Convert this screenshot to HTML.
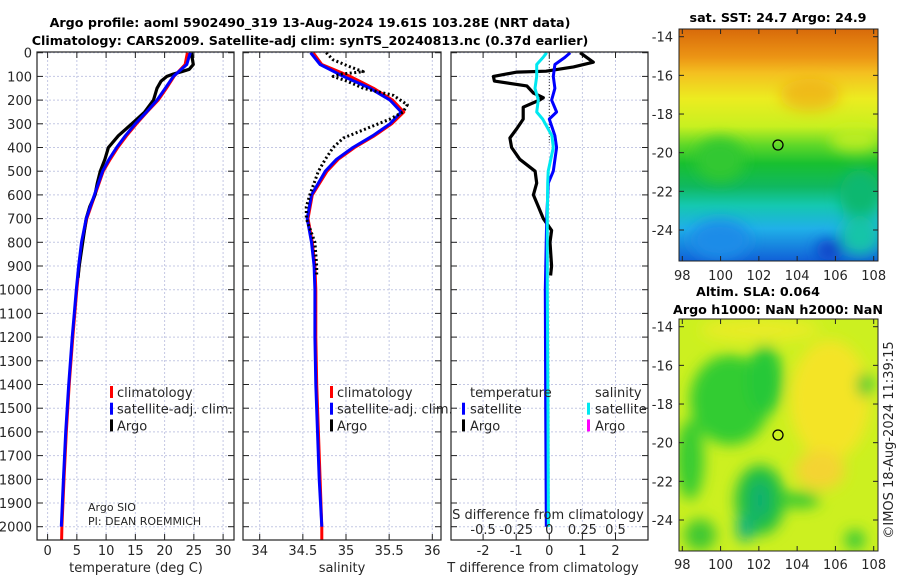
<!DOCTYPE html>
<html><head><meta charset="utf-8"><style>
html,body{margin:0;padding:0;background:#fff;}
svg{display:block;font-family:"DejaVu Sans","Liberation Sans",sans-serif;}
.t{font-size:13px;fill:#262626;}
.b{font-weight:bold;fill:#000;font-size:12.7px;}
</style></head><body>
<svg id="fig" width="900" height="580" viewBox="0 0 900 580" xmlns="http://www.w3.org/2000/svg">
<defs>
<linearGradient id="sstg" x1="0" y1="0" x2="0" y2="1">
<stop offset="0" stop-color="#d86a0a"/><stop offset="0.12" stop-color="#ec9414"/><stop offset="0.19" stop-color="#f4c020"/>
<stop offset="0.3" stop-color="#ecec20"/><stop offset="0.42" stop-color="#c8f020"/><stop offset="0.5" stop-color="#60d828"/>
<stop offset="0.58" stop-color="#18c030"/><stop offset="0.68" stop-color="#10b860"/><stop offset="0.76" stop-color="#14c8b0"/>
<stop offset="0.86" stop-color="#20b0e8"/><stop offset="1" stop-color="#1060d8"/></linearGradient>
<filter id="blur"><feGaussianBlur stdDeviation="7"/></filter>
<clipPath id="c1"><rect x="679" y="29" width="199" height="232"/></clipPath>
<clipPath id="c2"><rect x="679" y="319" width="199" height="232"/></clipPath>
</defs>
<text class="b" x="310" y="27" text-anchor="middle">Argo profile: aoml 5902490_319 13-Aug-2024 19.61S 103.28E (NRT data)</text>
<text class="b" x="310" y="45" text-anchor="middle">Climatology: CARS2009. Satellite-adj clim: synTS_20240813.nc (0.37d earlier)</text>
<g id="p1"></g>
<g id="p2"></g>
<g id="p3"></g>

<g>
<text class="b" x="778" y="22" text-anchor="middle">sat. SST: 24.7 Argo: 24.9</text>
<g clip-path="url(#c1)">
<rect x="679" y="29" width="199" height="232" fill="url(#sstg)"/>
<g filter="url(#blur)">
<ellipse cx="810" cy="95" rx="30" ry="16" fill="#f0a018" opacity="0.6"/>
<ellipse cx="720" cy="160" rx="25" ry="22" fill="#30c830"/>
<ellipse cx="855" cy="140" rx="25" ry="12" fill="#c8f020" opacity="0.8"/>
<ellipse cx="860" cy="195" rx="20" ry="25" fill="#10b870"/>
<ellipse cx="720" cy="240" rx="30" ry="20" fill="#1c8ce8"/>
<ellipse cx="830" cy="250" rx="14" ry="10" fill="#1040c8"/>
<ellipse cx="860" cy="235" rx="20" ry="20" fill="#14c4a8"/>
</g></g>
<rect x="679" y="29" width="199" height="232" fill="none" stroke="#222" stroke-width="1"/>
<circle cx="778" cy="145" r="5" fill="none" stroke="#000" stroke-width="1.3"/>
<g id="m1ax"></g>
</g>

<g>
<text class="b" x="758" y="296" text-anchor="middle">Altim. SLA: 0.064</text>
<text class="b" x="778" y="314" text-anchor="middle">Argo h1000: NaN h2000: NaN</text>
<g clip-path="url(#c2)">
<rect x="679" y="319" width="199" height="232" fill="#ccf020"/>
<g filter="url(#blur)">
<ellipse cx="830" cy="400" rx="40" ry="60" fill="#f4e428"/>
<ellipse cx="820" cy="470" rx="25" ry="20" fill="#f4d430"/>
<ellipse cx="760" cy="330" rx="60" ry="12" fill="#e8ec28"/>
<ellipse cx="730" cy="400" rx="40" ry="45" fill="#30cc30"/>
<ellipse cx="765" cy="380" rx="18" ry="35" fill="#28c838"/>
<ellipse cx="690" cy="460" rx="14" ry="40" fill="#38cc30"/>
<ellipse cx="760" cy="500" rx="25" ry="35" fill="#20c040"/>
<ellipse cx="760" cy="500" rx="10" ry="20" fill="#10b070"/>
<ellipse cx="745" cy="528" rx="8" ry="14" fill="#10b080"/>
<ellipse cx="800" cy="500" rx="20" ry="8" fill="#34c830"/>
<ellipse cx="865" cy="385" rx="8" ry="12" fill="#30c838"/>
<ellipse cx="700" cy="535" rx="16" ry="16" fill="#40c830"/>
<ellipse cx="855" cy="540" rx="10" ry="10" fill="#30c838"/>
</g></g>
<rect x="679" y="319" width="199" height="232" fill="none" stroke="#222" stroke-width="1"/>
<circle cx="778" cy="435" r="5" fill="none" stroke="#000" stroke-width="1.3"/>
<g id="m2ax"></g>
</g>
<text class="t" transform="translate(893,440) rotate(-90)" text-anchor="middle" font-size="13">©IMOS 18-Aug-2024 11:39:15</text>
</svg>
<script>
// shared depth axis
const depthTicks = [0,100,200,300,400,500,600,700,800,900,1000,1100,1200,1300,1400,1500,1600,1700,1800,1900,2000];
// temperature panel data
const tempTicks = [0,5,10,15,20,25,30];
const climDepth = [0,50,100,150,200,250,300,350,400,450,500,600,700,800,900,1000,1200,1400,1600,1800,2000,2056];
const climTemp  = [23.9,23.5,21.6,20.3,18.9,17.0,15.2,13.5,12.0,10.7,9.5,8.1,6.7,5.9,5.4,5.0,4.3,3.7,3.2,2.8,2.45,2.4];
const satDepth  = [0,50,100,150,200,250,300,350,400,450,500,600,700,800,900,1000,1200,1400,1600,1800,2000];
const satTemp   = [24.4,23.8,21.5,20.1,18.7,16.9,15.0,13.3,11.8,10.5,9.4,8.0,6.6,5.8,5.3,4.9,4.2,3.6,3.1,2.7,2.35];
const argoDepth = [0,20,50,70,80,90,100,120,150,200,250,300,350,400,450,500,550,600,650,700,800,900,950];
const argoTemp  = [24.6,24.7,24.9,24.2,22.9,21.5,20.4,19.4,18.7,18.1,16.6,14.4,12.1,10.4,9.8,9.0,8.5,8.1,7.2,6.6,6.0,5.4,5.2];
// salinity panel data
const salTicks = [34,34.5,35,35.5,36];
const salTickLabels = ["34","34.5","35","35.5","36"];
const climSal = [34.62,34.72,35.05,35.32,35.54,35.67,35.53,35.33,35.10,34.91,34.78,34.61,34.56,34.61,34.64,34.65,34.65,34.66,34.68,34.70,34.72,34.72];
const satSal  = [34.59,34.70,34.97,35.28,35.51,35.64,35.51,35.31,35.08,34.89,34.76,34.60,34.55,34.60,34.63,34.64,34.64,34.65,34.67,34.69,34.72];
const argoSalDepth = [0,30,60,80,90,100,120,150,180,220,250,280,320,360,400,450,500,600,650,700,800,900,940];
const argoSal = [34.77,34.85,35.05,35.2,34.95,34.85,35.01,35.2,35.55,35.71,35.66,35.51,35.24,34.97,34.85,34.76,34.68,34.58,34.54,34.54,34.64,34.66,34.66];
// difference panel data
const dTTicks = [-2,-1,0,1,2];
const dSTicks = [-0.5,-0.25,0,0.25,0.5];
const dSTickLabels = ["-0.5","-0.25","0","0.25","0.5"];
const dDepth = [0,20,50,100,150,200,250,280,350,400,500,550,700,1000,1500,2000];
const dTSat  = [0.63,0.47,0.17,0.12,0.17,0.07,0.22,0.0,0.17,0.22,0.12,-0.03,-0.08,-0.12,-0.11,-0.09];
const dSSat  = [-0.02,-0.047,-0.095,-0.095,-0.108,-0.083,-0.095,-0.05,0.02,0.03,-0.008,-0.012,-0.015,-0.015,-0.01,-0.007];
const dTArgoDepth = [0,20,40,60,78,82,100,120,140,170,190,200,230,280,320,360,400,450,500,550,600,650,700,750,800,900,940];
const dTArgo = [0.93,1.13,1.33,0.73,-0.1,-0.98,-1.69,-1.66,-0.68,-0.48,-0.18,-0.3,-0.79,-0.79,-0.98,-1.19,-1.14,-0.89,-0.43,-0.38,-0.48,-0.33,-0.18,0.07,0.02,0.07,0.04];
// map axes
const lonTicks = [98,100,102,104,106,108];
const latTicks = [-14,-16,-18,-20,-22,-24];

const NS = "http://www.w3.org/2000/svg";
const yD = d => 52.7 + d*0.237;
function el(parent, tag, attrs, text){
  const e = document.createElementNS(NS, tag);
  for (const k in attrs) e.setAttribute(k, attrs[k]);
  if (text !== undefined) e.textContent = text;
  parent.appendChild(e);
  return e;
}
function line(g, xs, ds, sx, color, w, dash, name){
  const pts = xs.map((v,i)=> sx(v).toFixed(1)+","+yD(ds[i]).toFixed(1)).join(" ");
  const p = el(g, "polyline", {points:pts, fill:"none", stroke:color, "stroke-width":w, "stroke-linejoin":"round"});
  if (dash) p.setAttribute("stroke-dasharray", dash);
  
  
}
function frame(g, x0, x1, xt, sx, leftLabels){
  const top=52, bot=540;
  depthTicks.forEach(d=>{
    el(g,"line",{x1:x0,x2:x1,y1:yD(d),y2:yD(d),stroke:"#c4c8e4","stroke-width":1,"stroke-dasharray":"2,2"});
    el(g,"line",{x1:x0,x2:x0+6,y1:yD(d),y2:yD(d),stroke:"#222","stroke-width":1});
    el(g,"line",{x1:x1-6,x2:x1,y1:yD(d),y2:yD(d),stroke:"#222","stroke-width":1});
    if (leftLabels){
      const t = el(g,"text",{x:32,y:yD(d)+5,"text-anchor":"end",class:"t"}, String(d));
      
      
    }
  });
  xt.forEach(v=>{
    el(g,"line",{x1:sx(v),x2:sx(v),y1:top,y2:bot,stroke:"#c4c8e4","stroke-width":1,"stroke-dasharray":"2,2"});
    el(g,"line",{x1:sx(v),x2:sx(v),y1:bot-6,y2:bot,stroke:"#222","stroke-width":1});
    el(g,"line",{x1:sx(v),x2:sx(v),y1:top,y2:top+6,stroke:"#222","stroke-width":1});
  });
}
function border(g,x0,x1){
  el(g,"rect",{x:x0,y:52,width:x1-x0,height:488,fill:"none",stroke:"#222","stroke-width":1.2});
}
function legend(g, x, rows){
  rows.forEach((r,i)=>{
    const y = 392 + i*16.7;
    el(g,"rect",{x:x,y:y-6,width:3,height:12,fill:r[0]});
    const t = el(g,"text",{x:x+7,y:y+5,class:"t"}, r[1]);
    
    
  });
}

// Panel 1
const p1 = document.getElementById("p1");
const xT = t => 47.6 + t*5.85;
frame(p1, 37, 234, tempTicks, xT, true);
line(p1, climTemp, climDepth, xT, "#ff0000", 3, null, "climatology-temperature-line");
line(p1, argoTemp, argoDepth, xT, "#000000", 3.2, null, "argo-temperature-line");
line(p1, satTemp, satDepth, xT, "#0000ff", 3, null, "satellite-temperature-line");
border(p1,37,234);
tempTicks.forEach(v=>{ const t=el(p1,"text",{x:xT(v),y:555,"text-anchor":"middle",class:"t"},String(v));  });
{const t=el(p1,"text",{x:136,y:572,"text-anchor":"middle",class:"t"},"temperature (deg C)");  }
legend(p1, 110, [["#ff0000","climatology"],["#0000ff","satellite-adj. clim."],["#000","Argo"]]);
{const t=el(p1,"text",{x:88,y:511,class:"t"},"Argo SIO");   t.style.fontSize="11px";}
{const t=el(p1,"text",{x:88,y:525,class:"t"},"PI: DEAN ROEMMICH");   t.style.fontSize="11px";}

// Panel 2
const p2 = document.getElementById("p2");
const xS = s => 259.7 + (s-34)*86.3;
frame(p2, 243, 441, salTicks, xS, false);
line(p2, climSal, climDepth, xS, "#ff0000", 3, null, "climatology-salinity-line");
line(p2, satSal, satDepth, xS, "#0000ff", 3, null, "satellite-salinity-line");
line(p2, argoSal, argoSalDepth, xS, "#000000", 3, "2,2.5", "argo-salinity-line");
border(p2,243,441);
salTicks.forEach((v,i)=>{ const t=el(p2,"text",{x:xS(v),y:555,"text-anchor":"middle",class:"t"},salTickLabels[i]);  });
{const t=el(p2,"text",{x:342,y:572,"text-anchor":"middle",class:"t"},"salinity");  }
legend(p2, 330, [["#ff0000","climatology"],["#0000ff","satellite-adj. clim."],["#000","Argo"]]);

// Panel 3
const p3 = document.getElementById("p3");
const xDT = v => 549.3 + v*33.1;
const xDS = v => 549.3 + v*132.4;
frame(p3, 451, 648, dTTicks, xDT, false);
el(p3,"line",{x1:549.3,x2:549.3,y1:52,y2:yD(380),stroke:"#333","stroke-width":1,"stroke-dasharray":"1,2"});
line(p3, dTArgo, dTArgoDepth, xDT, "#000000", 3.2, null, "argo-temperature-difference-line");
line(p3, dTSat, dDepth, xDT, "#0000ff", 3, null, "satellite-temperature-difference-line");
line(p3, dSSat, dDepth, xDS, "#00e8f0", 3, null, "satellite-salinity-difference-line");
border(p3,451,648);
dTTicks.forEach(v=>{ const t=el(p3,"text",{x:xDT(v),y:555,"text-anchor":"middle",class:"t"},String(v));  });
dSTicks.forEach((v,i)=>{ const t=el(p3,"text",{x:xDS(v),y:534,"text-anchor":"middle",class:"t"},dSTickLabels[i]);  });
{const t=el(p3,"text",{x:548,y:519,"text-anchor":"middle",class:"t"},"S difference from climatology");  }
{const t=el(p3,"text",{x:543,y:572,"text-anchor":"middle",class:"t"},"T difference from climatology");  }
{const t=el(p3,"text",{x:470,y:397,class:"t"},"temperature");  }
{const t=el(p3,"text",{x:595,y:397,class:"t"},"salinity");  }
{
  const rows=[["#0000ff","satellite"],["#000","Argo"]];
  rows.forEach((r,i)=>{const y=408.7+i*16.7; el(p3,"rect",{x:462,y:y-6,width:3,height:12,fill:r[0]}); const t=el(p3,"text",{x:470,y:y+5,class:"t"},r[1]);  });
  const rows2=[["#00e8f0","satellite"],["#ff00ff","Argo"]];
  rows2.forEach((r,i)=>{const y=408.7+i*16.7; el(p3,"rect",{x:587,y:y-6,width:3,height:12,fill:r[0]}); const t=el(p3,"text",{x:595,y:y+5,class:"t"},r[1]);  });
}

// map axes
function mapAxes(id, top, bot, latAt14, latAt24, lonY){
  const g = document.getElementById(id);
  const xL = lon => 682.3 + (lon-98)*19.14;
  const yL = lat => latAt14 + (-14-lat)*(latAt24-latAt14)/10;
  lonTicks.forEach(v=>{
    el(g,"line",{x1:xL(v),x2:xL(v),y1:bot-5,y2:bot,stroke:"#222"});
    el(g,"line",{x1:xL(v),x2:xL(v),y1:top,y2:top+5,stroke:"#222"});
    const t=el(g,"text",{x:xL(v),y:lonY,"text-anchor":"middle",class:"t"},String(v));  
  });
  latTicks.forEach(v=>{
    el(g,"line",{x1:679,x2:684,y1:yL(v),y2:yL(v),stroke:"#222"});
    el(g,"line",{x1:873,x2:878,y1:yL(v),y2:yL(v),stroke:"#222"});
    const t=el(g,"text",{x:673,y:yL(v)+5,"text-anchor":"end",class:"t"},String(v));  
  });
}
mapAxes("m1ax", 29, 261, 36.7, 230, 280);
mapAxes("m2ax", 319, 551, 326.7, 520, 569);
</script>
</body></html>
